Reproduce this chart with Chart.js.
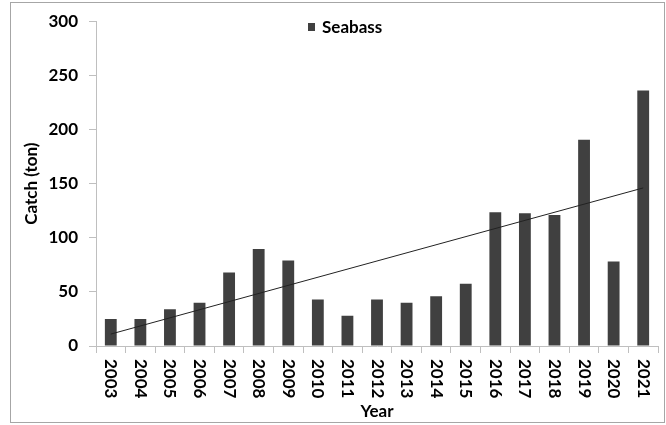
<!DOCTYPE html>
<html>
<head>
<meta charset="utf-8">
<script src="https://cdn.jsdelivr.net/npm/chart.js@4/dist/chart.umd.min.js"></script>
<style>
  html, body { margin: 0; padding: 0; background: #fff; }
  #wrap { position: relative; width: 666px; height: 425px; }
  #frame {
    position: absolute; left: 10px; top: 2px; width: 655px; height: 421px;
    border: 1px solid #a6a6a6; box-sizing: border-box; pointer-events: none;
  }
</style>
</head>
<body>
<div id="wrap">
  <canvas id="chart" width="666" height="425"></canvas>
  <div id="frame"></div>
</div>
<script>
// Seabass catch per year
var years = ["2003", "2004", "2005", "2006", "2007", "2008", "2009", "2010", "2011", "2012",
             "2013", "2014", "2015", "2016", "2017", "2018", "2019", "2020", "2021"];
var catchTon = [25, 25, 34, 40, 68, 89.5, 79, 43, 28, 43,
                40, 46, 57.5, 123.5, 122.5, 121, 190.5, 78, 236];
// linear trend line, only its two ends are drawn
var trendEnds = [11, 146];
var yTicks = [0, 50, 100, 150, 200, 250, 300];

var FONT = "Lato, 'Open Sans', sans-serif";
var FSIZE = 17;

var trendData = years.map(function (y, i) {
  if (i === 0) return trendEnds[0];
  if (i === years.length - 1) return trendEnds[1];
  return null;
});

// x labels read top-to-bottom (rotated clockwise), which Chart.js
// can't do itself, so they are drawn here at each category tick
var rotatedLabels = {
  id: "rotatedLabels",
  afterDraw: function (chart) {
    var ctx = chart.ctx;
    var xs = chart.scales.x;
    ctx.save();
    ctx.font = "bold " + FSIZE + "px " + FONT;
    ctx.fillStyle = "#000";
    ctx.textAlign = "left";
    ctx.textBaseline = "middle";
    years.forEach(function (lab, i) {
      ctx.save();
      ctx.translate(xs.getPixelForTick(i), 359);
      ctx.rotate(Math.PI / 2);
      ctx.fillText(lab, 0, 0);
      ctx.restore();
    });
    ctx.restore();
  },
};

// legend box inside the plot, only the bar series
var seriesKey = {
  id: "seriesKey",
  afterDraw: function (chart) {
    var ctx = chart.ctx;
    ctx.save();
    ctx.fillStyle = "#404040";
    ctx.fillRect(308, 23, 7, 8);
    ctx.font = "bold " + FSIZE + "px " + FONT;
    ctx.fillStyle = "#000";
    ctx.textBaseline = "middle";
    ctx.fillText("Seabass", 322, 28);
    ctx.restore();
  },
};

new Chart(document.getElementById("chart"), {
  data: {
    labels: years,
    datasets: [
      {
        type: "bar",
        label: "Seabass",
        data: catchTon,
        backgroundColor: "#404040",
        borderWidth: 0,
        categoryPercentage: 1,
        barPercentage: 0.4,
        order: 2,
      },
      {
        type: "line",
        label: "Trend",
        data: trendData,
        spanGaps: true,
        borderColor: "#222",
        borderWidth: 1,
        pointRadius: 0,
        fill: false,
        order: 1,
      },
    ],
  },
  options: {
    responsive: false,
    animation: false,
    layout: { padding: { left: 10, top: 14, right: 8, bottom: 0 } },
    plugins: {
      legend: { display: false },
      tooltip: { enabled: false },
    },
    scales: {
      x: {
        grid: { drawOnChartArea: false, drawTicks: true, tickLength: 7, color: "#bfbfbf", offset: true },
        border: { color: "#bfbfbf" },
        ticks: { display: false },
        title: {
          display: true,
          text: "Year",
          color: "#000",
          font: { family: FONT, size: FSIZE, weight: "bold" },
          padding: { top: 0, bottom: 3 },
        },
        afterFit: function (s) { s.height = 79; },
      },
      y: {
        min: 0,
        max: 300,
        afterBuildTicks: function (s) {
          s.ticks = yTicks.map(function (v) { return { value: v }; });
        },
        grid: { drawOnChartArea: false, drawTicks: true, tickLength: 7, color: "#bfbfbf" },
        border: { color: "#bfbfbf" },
        ticks: {
          color: "#000",
          padding: 11,
          font: { family: FONT, size: FSIZE, weight: "bold" },
        },
        title: {
          display: true,
          text: "Catch (ton)",
          color: "#000",
          font: { family: FONT, size: FSIZE, weight: "bold" },
          padding: { top: 11, bottom: 0 },
        },
        afterFit: function (s) { s.width = 86; },
      },
    },
  },
  plugins: [rotatedLabels, seriesKey],
});
</script>
</body>
</html>
